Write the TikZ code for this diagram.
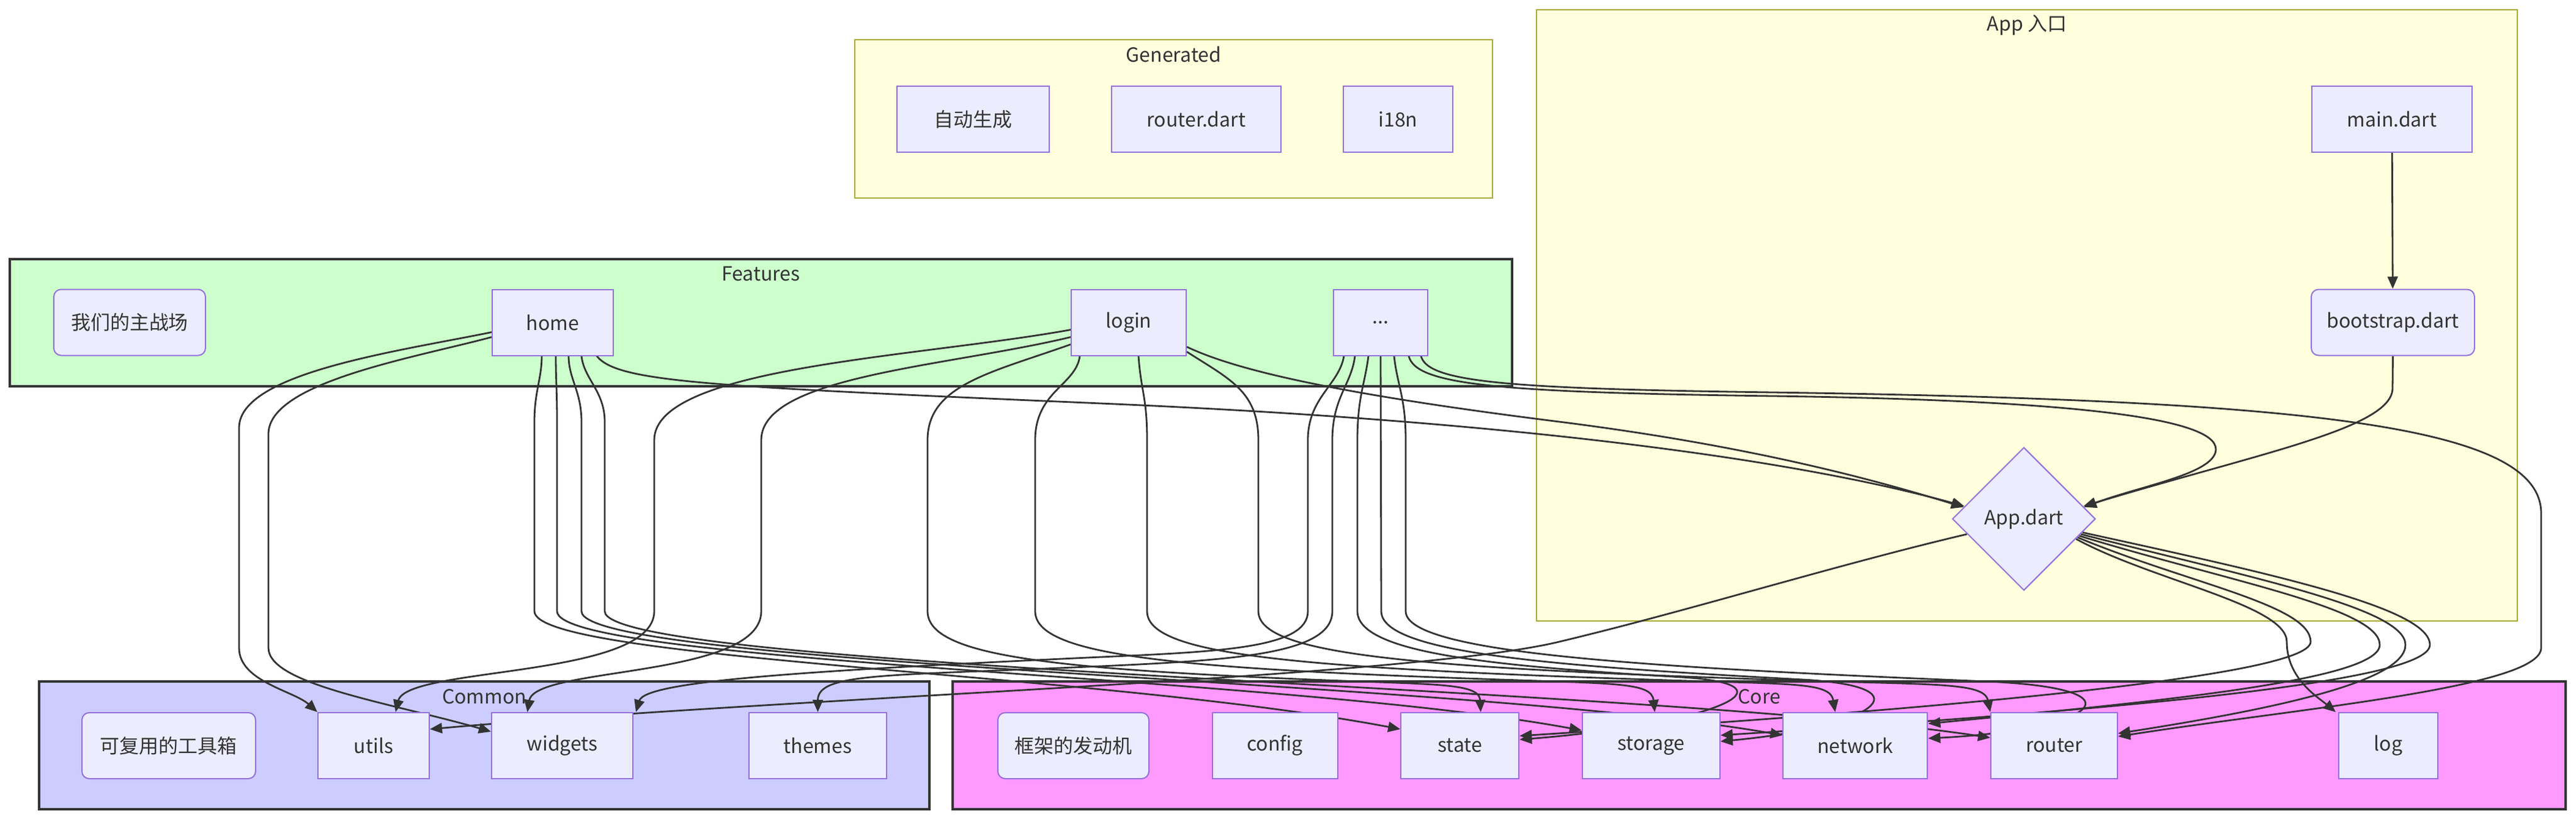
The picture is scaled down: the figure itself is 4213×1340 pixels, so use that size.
\documentclass[tikz,border=0pt]{standalone}
\usepackage{fontspec}
\setmainfont{Noto Sans CJK SC}
\usetikzlibrary{positioning,shapes.geometric,arrows.meta}

\definecolor{nodefill}{HTML}{ECECFF}
\definecolor{nodeline}{HTML}{9370DB}
\definecolor{genfill}{HTML}{FFFFDE}
\definecolor{genline}{HTML}{AAAA33}
\definecolor{featfill}{HTML}{CCFFCC}
\definecolor{commfill}{HTML}{CCCCFF}
\definecolor{corefill}{HTML}{FF99FF}
\definecolor{ink}{HTML}{333333}

\pgfdeclarelayer{clusters}
\pgfdeclarelayer{edges}
\pgfsetlayers{clusters,edges,main}

\tikzset{
  module/.style={rectangle,draw=nodeline,fill=nodefill,line width=0.5pt,
    minimum height=27pt,inner sep=0pt,text=ink,font=\fontsize{8}{10}\selectfont},
  note/.style={module,rounded corners=3pt},
  decision/.style={diamond,draw=nodeline,fill=nodefill,line width=0.5pt,
    minimum width=58.5pt,minimum height=58.5pt,aspect=1,inner sep=0pt,
    text=ink,font=\fontsize{8}{10}\selectfont},
  dep/.style={draw=ink,line width=0.7pt,-{Triangle[length=5pt,width=4.2pt]}},
  layer/.style={draw=ink,line width=1.1pt},
  outer/.style={draw=genline,fill=genfill,line width=0.5pt},
  title/.style={text=ink,font=\fontsize{8}{10}\selectfont},
}

\begin{document}
\begin{tikzpicture}[x=0.25pt,y=-0.25pt,node distance=25pt]
  \useasboundingbox (0,0) rectangle (4213,1340);

  % subgraphs
  \begin{pgfonlayer}{clusters}
    \draw[outer] (1398,65) rectangle (2441,324);
    \node[title] (gentitle) at (1919.5,89) {Generated};
    \draw[outer] (2513,16) rectangle (4117,1016);
    \node[title] (apptitle) at (3315,41) {App 入口};
    \draw[layer,fill=featfill] (16,424) rectangle (2473,632);
    \node[title] (feattitle) at (1244.5,448) {Features};
    \draw[layer,fill=commfill] (64,1115) rectangle (1520,1324);
    \node[title] (commtitle) at (792,1140) {Common};
    \draw[layer,fill=corefill] (1558,1115) rectangle (4196,1324);
    \node[title] (coretitle) at (2877,1140) {Core};
  \end{pgfonlayer}

  % Generated
  \node[module,minimum width=62.25pt] (gauto) at (1591.5,195) {自动生成};
  \node[module,minimum width=69.25pt,right=of gauto] (grouter) {router.dart};
  \node[module,minimum width=44.75pt,right=of grouter] (gi18n) {i18n};

  % App entry
  \node[module,minimum width=65.5pt] (mainf) at (3912,195) {main.dart};
  \node[note,minimum width=66.75pt] (boot) at (3913.5,527.5) {bootstrap.dart};
  \node[decision] (appd) at (3310,849) {App.dart};

  % Features
  \node[note,minimum width=62pt] (fdesc) at (212,527.5) {我们的主战场};
  \node[module,minimum width=49.5pt] (home) at (904,527.5) {home};
  \node[module,minimum width=47pt] (login) at (1846,527.5) {login};
  \node[module,minimum width=38.5pt] (more) at (2258,527.5) {...};

  % Common
  \node[note,minimum width=71pt] (cdesc) at (276,1220) {可复用的工具箱};
  \node[module,minimum width=45.5pt,right=of cdesc] (utils) {utils};
  \node[module,minimum width=57.75pt,right=of utils] (widgets) {widgets};
  \node[module,minimum width=56.25pt] (themes) at (1337.5,1220) {themes};

  % Core
  \begin{scope}[node distance=25.4pt]
    \node[note,minimum width=61.75pt] (kdesc) at (1755.5,1220) {框架的发动机};
    \node[module,minimum width=51.25pt,right=of kdesc] (config) {config};
    \node[module,minimum width=48.25pt,right=of config] (state) {state};
    \node[module,minimum width=56.25pt,right=of state] (storage) {storage};
    \node[module,minimum width=59pt,right=of storage] (network) {network};
    \node[module,minimum width=51.75pt,right=of network] (router) {router};
  \end{scope}
  \node[module,minimum width=40.5pt] (log) at (3906,1220) {log};

  \begin{pgfonlayer}{edges}
    % entry chain
    \draw[dep] (mainf) -- (boot);
    \draw[dep] (boot.south) -- (3913,635) .. controls (3913,700) and (3700,740) .. (appd.12);

    % features into App.dart
    \draw[dep] ([xshift=-7pt]home.south east) .. controls (1010,625) and (1150,632) .. (1800,660)
      .. controls (2500,690) and (2950,755) .. (appd.168);
    \draw[dep] ([yshift=-10pt]login.east) .. controls (2010,600) and (2150,640) .. (2550,690)
      .. controls (2850,728) and (3050,780) .. (appd.169);
    \draw[dep] ([xshift=-8pt]more.south east) .. controls (2315,630) and (2450,642) .. (2900,648)
      .. controls (3400,655) and (3624,685) .. (3624,735) .. controls (3624,775) and (3500,795) .. (appd.11);

    % home
    \draw[dep] ([yshift=-4pt]home.west) .. controls (650,575) and (391,610) .. (391,700) -- (391,1060)
      .. controls (391,1115) and (480,1130) .. (utils.north west);
    \draw[dep] ([yshift=-6pt]home.west) .. controls (680,585) and (439,625) .. (439,710) -- (439,1060)
      .. controls (439,1120) and (640,1150) .. ([yshift=5.75pt]widgets.west);
    \draw[dep] ([xshift=-4.5pt]home.south) .. controls (886,620) and (874,640) .. (874,690) -- (874,1000)
      .. controls (874,1080) and (1800,1100) .. ([yshift=6.75pt]state.west);
    \draw[dep] ([xshift=1.25pt]home.south) .. controls (909,620) and (911,640) .. (911,690) -- (911,1000)
      .. controls (911,1085) and (2100,1105) .. ([yshift=6.25pt]storage.west);
    \draw[dep] ([xshift=6.5pt]home.south) .. controls (930,620) and (951,640) .. (951,690) -- (951,1000)
      .. controls (951,1090) and (2400,1112) .. ([yshift=4.25pt]network.west);
    \draw[dep] ([xshift=11.75pt]home.south) .. controls (955,620) and (989,640) .. (989,690) -- (989,1000)
      .. controls (989,1095) and (2700,1122) .. ([yshift=3.25pt]router.west);

    % login
    \draw[dep] ([yshift=-3pt]login.west) .. controls (1500,585) and (1070,600) .. (1070,720) -- (1070,1000)
      .. controls (1070,1110) and (665,1090) .. ([xshift=9pt]utils.north);
    \draw[dep] ([yshift=-6pt]login.west) .. controls (1550,600) and (1245,615) .. (1245,720) -- (1245,1000)
      .. controls (1245,1110) and (875,1090) .. ([xshift=-14.25pt]widgets.north);
    \draw[dep] ([yshift=-9pt]login.west) .. controls (1620,610) and (1517,630) .. (1517,720) -- (1517,1000)
      .. controls (1517,1070) and (1700,1092) .. (2100,1110) .. controls (2340,1121) and (2419,1115) .. ([xshift=8.5pt]state.north);
    \draw[dep] ([xshift=-20pt]login.south) .. controls (1760,630) and (1693,640) .. (1693,720) -- (1693,1000)
      .. controls (1693,1070) and (1900,1092) .. (2400,1110) .. controls (2640,1119) and (2701,1115) .. ([xshift=1.5pt]storage.north);
    \draw[dep] ([xshift=4pt]login.south) .. controls (1866,640) and (1876,650) .. (1876,720) -- (1876,1000)
      .. controls (1876,1070) and (2100,1092) .. (2700,1112) .. controls (2930,1120) and (2993,1115) .. ([xshift=-8.25pt]network.north);
    \draw[dep] ([yshift=-12pt]login.east) .. controls (2010,620) and (2058,640) .. (2058,720) -- (2058,1000)
      .. controls (2058,1070) and (2300,1092) .. (2900,1112) .. controls (3160,1121) and (3245,1115) .. (router.north west);

    % ...
    \draw[dep] ([xshift=-15pt]more.south) .. controls (2190,630) and (2139,650) .. (2139,720) -- (2139,1000)
      .. controls (2139,1060) and (2000,1066) .. (1800,1075) .. controls (1300,1098) and (1055,1115) .. ([xshift=1pt]widgets.north east);
    \draw[dep] ([xshift=-10.5pt]more.south) .. controls (2210,630) and (2179,650) .. (2179,720) -- (2179,1000)
      .. controls (2179,1070) and (2020,1080) .. (1800,1090) .. controls (1450,1106) and (1337.5,1100) .. (themes.north);
    \draw[dep] ([xshift=-5pt]more.south) .. controls (2232,630) and (2220,650) .. (2220,720) -- (2220,1000)
      .. controls (2220,1070) and (2450,1090) .. (2750,1108) .. controls (2950,1120) and (2800,1185) .. ([yshift=2.5pt]state.east);
    \draw[dep] (more.south) -- (2259,1000)
      .. controls (2259,1070) and (2550,1090) .. (2950,1112) .. controls (3160,1124) and (3060,1190) .. ([yshift=1.75pt]storage.east);
    \draw[dep] ([xshift=5.5pt]more.south) .. controls (2285,630) and (2299,650) .. (2299,720) -- (2299,1000)
      .. controls (2299,1070) and (2700,1092) .. (3250,1115) .. controls (3520,1127) and (3420,1195) .. ([yshift=3pt]network.east);
    \draw[dep] ([xshift=-3pt]more.south east) .. controls (2335,625) and (2460,636) .. (2900,642)
      .. controls (3800,655) and (4156,700) .. (4156,840) -- (4156,1060)
      .. controls (4156,1125) and (3750,1160) .. ([yshift=3.75pt]router.east);

    % App.dart
    \draw[dep] (appd.195) .. controls (3000,925) and (2760,1000) .. (2550,1050)
      .. controls (2300,1110) and (1300,1140) .. ([yshift=6.75pt]utils.east);
    \draw[dep] (appd.-21) .. controls (3520,950) and (3740,990) .. (3740,1050)
      .. controls (3740,1110) and (3790,1140) .. ([xshift=-1pt]log.north west);
    \draw[dep] (appd.-19) .. controls (3580,955) and (3779,990) .. (3779,1050)
      .. controls (3779,1110) and (3100,1165) .. ([yshift=4pt]state.east);
    \draw[dep] (appd.-17) .. controls (3640,950) and (3892,995) .. (3892,1055)
      .. controls (3892,1115) and (3500,1150) .. ([yshift=9pt]network.east);
    \draw[dep] (appd.-15) .. controls (3680,945) and (3934,995) .. (3934,1055)
      .. controls (3934,1115) and (3720,1160) .. ([yshift=5pt]router.east);
    \draw[dep] (appd.-13) .. controls (3720,940) and (3974,995) .. (3974,1055)
      .. controls (3974,1120) and (3400,1165) .. ([yshift=4.25pt]storage.east);
  \end{pgfonlayer}
\end{tikzpicture}
\end{document}
